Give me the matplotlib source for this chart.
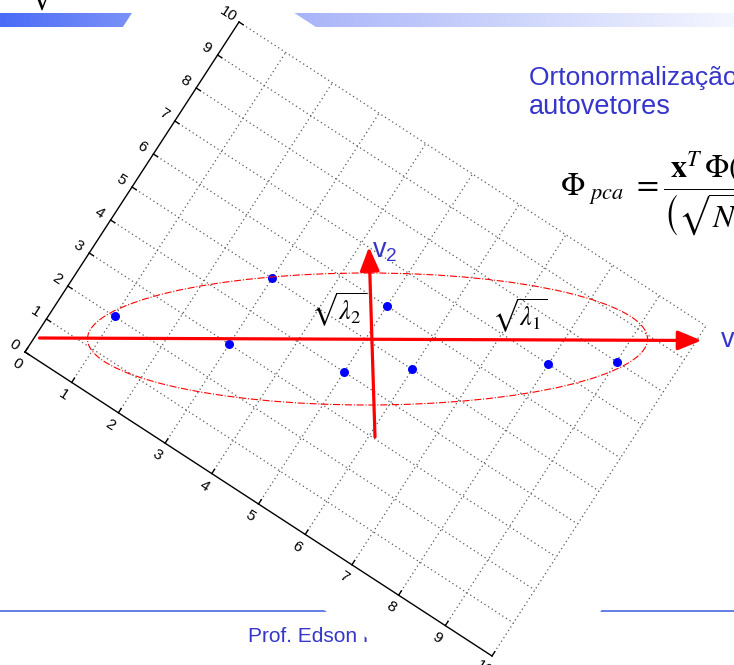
import numpy as np
import matplotlib
matplotlib.use("Agg")
import matplotlib.pyplot as plt
from matplotlib.transforms import Affine2D
from matplotlib.patches import Polygon, Ellipse
from matplotlib.colors import LinearSegmentedColormap

# data points of the (rotated) matlab plot
pts_x = [1, 3, 3, 5, 5, 6, 8, 9]
pts_y = [2, 5, 3, 6, 4, 5, 7, 8]
ticks = list(range(0, 11))
tick_labels = [str(t) for t in ticks]

title_lines = ["Ortonormalização dos", "autovetores"]
footer = "Prof. Edson Rios"
blue_txt = "#3535cc"

fig = plt.figure(figsize=(7.34, 6.65), dpi=100)
ax = fig.add_axes([0, 0, 1, 1])
ax.set_autoscale_on(False)
ax.set_xlim(0, 734)
ax.set_ylim(665, 0)
ax.axis("off")

# plot frame rotated ~33 deg (pixel space of the slide)
rot_aff = Affine2D.from_values(46.7, 30.4, 21.4, -33.0, 25, 352)
rot = rot_aff + ax.transData

# slide decoration: gradient bar on top + footer line
cmap = LinearSegmentedColormap.from_list(
    "bar", [(0, "#4a6cf7"), (0.18, "#7c92f8"), (0.42, "#aab6f9"), (1, "#f4f6ff")])
grad = np.linspace(0, 1, 256)[None, :]
ax.imshow(grad, extent=(0, 734, 27, 13), cmap=cmap, aspect="auto", zorder=1)
ax.plot([0, 734], [611, 611], color="#3a5be0", lw=1.1, zorder=1)
ax.text(248, 642, footer, fontsize=15, color=blue_txt, family="Liberation Sans",
        va="baseline", zorder=1)
ax.text(28, 13, r"$\sqrt{\quad}\ =$", fontsize=20, math_fontfamily="stix",
        va="bottom", zorder=1)

# white background of the pasted figure
bg = Polygon([(-1.7, -1.35), (11.2, -1.35), (11.2, 10.96), (-1.7, 10.96)],
             closed=True, transform=rot, facecolor="white", edgecolor="none", zorder=2)
ax.add_patch(bg)

# grid
for t in ticks[1:]:
    ax.plot([t, t], [0, 10], transform=rot, color="#5a5a5a", lw=0.9,
            ls=(0, (1, 2.4)), zorder=3)
    ax.plot([0, 10], [t, t], transform=rot, color="#5a5a5a", lw=0.9,
            ls=(0, (1, 2.4)), zorder=3)

# axes lines + ticks
ax.plot([0, 10], [0, 0], transform=rot, color="black", lw=1.0, zorder=4)
ax.plot([0, 0], [0, 10], transform=rot, color="black", lw=1.0, zorder=4)
for t, lab in zip(ticks, tick_labels):
    ax.plot([t, t], [0, 0.13], transform=rot, color="black", lw=1.0, zorder=4)
    ax.plot([0, 0.09], [t, t], transform=rot, color="black", lw=1.0, zorder=4)
    ax.text(t, -0.37, lab, transform=rot, rotation=-33, rotation_mode="anchor",
            ha="center", va="center", fontsize=11, family="Liberation Sans", zorder=4)
    ax.text(-0.24, t, lab, transform=rot, rotation=-33, rotation_mode="anchor",
            ha="center", va="center", fontsize=11, family="Liberation Sans", zorder=4)

# points
ax.plot(pts_x, pts_y, "o", transform=rot, color="#0000ff", ms=6.5, mec="none", zorder=6)

# principal axes overlay
cx, cy = rot_aff.transform([np.mean(pts_x), np.mean(pts_y)])
ax.add_patch(Ellipse((cx + 2, cy), 560, 132, fill=False, edgecolor="red",
                     lw=0.8, ls="-.", zorder=7))
arr = dict(arrowstyle="-|>,head_length=0.8,head_width=0.33", color="red", lw=2.3,
           mutation_scale=18, shrinkA=0, shrinkB=0)
ax.annotate("", xy=(cx + 336, cy + 1.5), xytext=(cx - 326, cy - 1), arrowprops=arr, zorder=7)
ax.annotate("", xy=(cx + 3.5, cy - 92), xytext=(cx + 9.5, cy + 98), arrowprops=arr, zorder=7)

ax.text(cx + 7, cy - 82, r"v$_\mathregular{2}$", fontsize=19.5, color=blue_txt,
        family="Liberation Sans", va="baseline", zorder=8)
ax.text(720, 347, r"v$_\mathregular{1}$", fontsize=19.5, color=blue_txt,
        family="Liberation Sans", va="baseline", zorder=8)
ax.text(311, 320, r"$\sqrt{\lambda_2}$", fontsize=19, math_fontfamily="stix",
        va="baseline", zorder=8)
ax.text(492, 326, r"$\sqrt{\lambda_1}$", fontsize=19, math_fontfamily="stix",
        va="baseline", zorder=8)

# slide text
ax.text(529, 85, title_lines[0], fontsize=19, color=blue_txt,
        family="Liberation Sans", va="baseline", zorder=8)
ax.text(529, 114, title_lines[1], fontsize=19.5, color=blue_txt,
        family="Liberation Sans", va="baseline", zorder=8)
ax.text(560, 196, r"$\Phi_{\ pca}\ =\dfrac{\mathbf{x}^T\,\Phi(\Lambda)}{\left(\sqrt{N}\,\Lambda\right)}$",
        fontsize=23, math_fontfamily="stix", va="baseline", zorder=8)

fig.savefig("out.png", dpi=100)
